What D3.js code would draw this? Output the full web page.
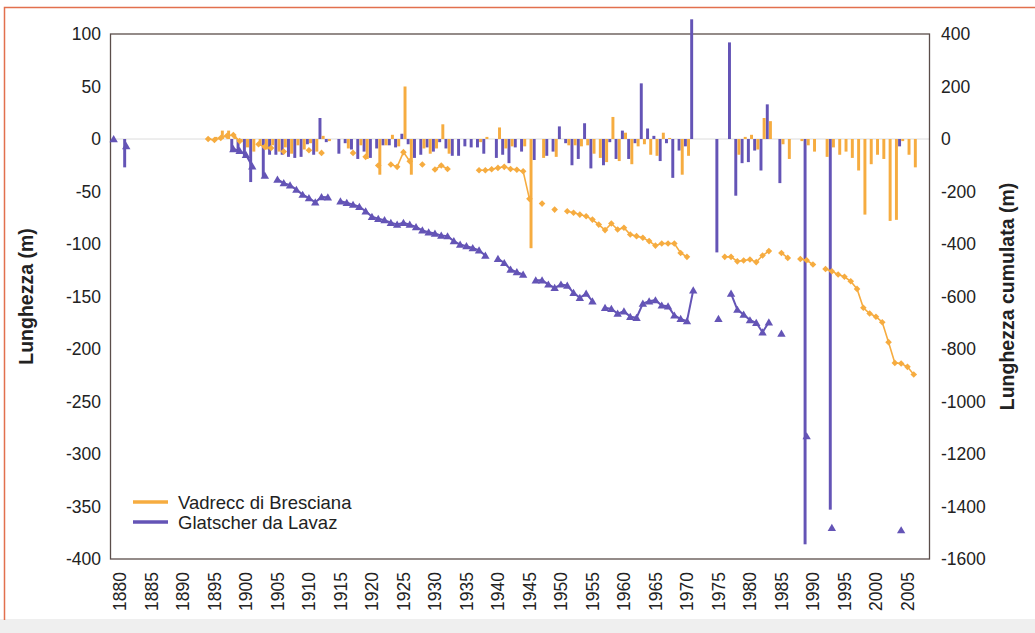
<!DOCTYPE html>
<html>
<head>
<meta charset="utf-8">
<script src="https://d3js.org/d3.v7.min.js"></script>
<style>
  body { margin: 0; background: #fff; }
  svg text { font-family: "Liberation Sans", Arial, sans-serif; fill: #222; }
</style>
</head>
<body>
<div id="chart"></div>
<script>
// category axis runs one year before 1880 and two after 2006
const firstYear = 1879
const lastYear = 2008
const xTickYears = [1880, 1885, 1890, 1895, 1900, 1905, 1910, 1915, 1920, 1925, 1930, 1935, 1940,
  1945, 1950, 1955, 1960, 1965, 1970, 1975, 1980, 1985, 1990, 1995, 2000, 2005]
const leftTicks = [100, 50, 0, -50, -100, -150, -200, -250, -300, -350, -400]
const rightTicks = [400, 200, 0, -200, -400, -600, -800, -1000, -1200, -1400, -1600]

const seriesNames = ["Vadrecc di Bresciana", "Glatscher da Lavaz"]

// annual length change (m), left axis  [year, value]
const brescBar = [
  [1894, 1], [1895, 2], [1896, 8], [1897, 8], [1898, 3], [1899, -3], [1900, -8], [1901, -12], [1902, -5],
  [1903, -10], [1904, -6], [1905, -12], [1906, -8], [1907, -14], [1908, -6], [1909, -10], [1910, -4],
  [1911, -12], [1912, 3], [1913, -2], [1916, -9], [1918, -6], [1919, -19], [1921, -34], [1922, -6],
  [1923, 4], [1924, -7], [1925, 50], [1926, -34], [1928, -9], [1929, -14], [1930, -9], [1931, 14],
  [1932, -14], [1937, -3], [1938, 2], [1940, 11], [1941, -9], [1942, -7], [1944, -7], [1945, -104],
  [1947, -18], [1949, -17], [1951, -6], [1952, -6], [1953, -7], [1954, -6], [1955, -14], [1956, -18],
  [1957, -22], [1958, 21], [1959, -21], [1960, 6], [1961, -24], [1962, -7], [1963, -5], [1964, -15],
  [1965, -16], [1966, 6], [1967, 1], [1969, -34], [1970, -16], [1978, -15], [1979, 2], [1980, 4],
  [1981, -10], [1982, 20], [1983, 17], [1985, -5], [1986, -19], [1988, -2], [1989, -6], [1990, -12],
  [1992, -17], [1993, -8], [1994, -15], [1995, -12], [1996, -18], [1997, -30], [1998, -72], [1999, -24],
  [2000, -15], [2001, -19], [2002, -78], [2003, -77], [2004, -2], [2005, -15], [2006, -27]
]
const lavazBar = [
  [1881, -27], [1898, -12], [1899, -13], [1900, -16], [1901, -41], [1903, -37], [1904, -15], [1905, -15],
  [1906, -15], [1907, -17], [1908, -18], [1909, -17], [1910, -5], [1911, -15], [1912, 20], [1913, -3],
  [1915, -14], [1916, -4], [1917, -10], [1918, -19], [1919, -12], [1920, -18], [1921, -9], [1922, -6],
  [1923, -6], [1924, -8], [1925, 5], [1926, -5], [1927, -18], [1928, -15], [1929, -8], [1930, -12],
  [1931, -3], [1932, -9], [1933, -16], [1934, -16], [1935, -7], [1936, -8], [1937, -8], [1938, -14],
  [1940, -18], [1941, -15], [1942, -23], [1943, -8], [1944, -12], [1946, -20], [1948, -16], [1949, -12],
  [1950, 12], [1951, -4], [1952, -25], [1953, -19], [1954, 15], [1955, -28], [1957, -25], [1958, -3],
  [1959, -19], [1960, 8], [1961, -19], [1962, -4], [1963, 53], [1964, 10], [1965, 3], [1966, -21],
  [1967, -4], [1968, -37], [1969, -11], [1970, -7], [1971, 114], [1975, -108], [1977, 92], [1978, -54],
  [1979, -23], [1980, -22], [1981, -11], [1982, -30], [1983, 33], [1985, -42], [1989, -386], [1993, -353],
  [2004, -7]
]

// cumulative length change (m), right axis
const brescCum = [
  [1894, 0], [1895, -4], [1896, 4], [1897, 12], [1898, 15], [1899, -8], [1902, -20], [1903, -30], [1904, -34],
  [1906, -48], [1910, -43], [1912, -53], [1917, -53], [1919, -68], [1921, -101], [1923, -97], [1924, -106],
  [1925, -50], [1926, -85], [1928, -97], [1930, -116], [1931, -101], [1932, -114], [1937, -119], [1938, -119],
  [1939, -115], [1940, -110], [1941, -106], [1942, -114], [1943, -117], [1944, -123], [1945, -228], [1947, -246],
  [1949, -269], [1951, -275], [1952, -281], [1953, -288], [1954, -294], [1955, -307], [1956, -326], [1957, -347],
  [1958, -322], [1959, -345], [1960, -338], [1961, -364], [1962, -370], [1963, -376], [1964, -389], [1965, -406],
  [1966, -398], [1967, -398], [1968, -398], [1969, -434], [1970, -449], [1976, -449], [1977, -449], [1978, -466],
  [1979, -463], [1980, -459], [1981, -469], [1982, -444], [1983, -427], [1985, -434], [1986, -453], [1988, -457],
  [1989, -462], [1990, -478], [1992, -495], [1993, -504], [1994, -516], [1995, -525], [1996, -542], [1997, -571],
  [1998, -643], [1999, -665], [2000, -677], [2001, -698], [2002, -774], [2003, -853], [2004, -855], [2005, -868],
  [2006, -897]
]
const lavazCum = [
  [1879, 0], [1881, -27], [1898, -38], [1899, -45], [1900, -60], [1901, -104], [1903, -139], [1905, -154],
  [1906, -168], [1907, -176], [1908, -193], [1909, -212], [1910, -225], [1911, -241], [1912, -221], [1913, -222],
  [1915, -237], [1916, -243], [1917, -250], [1918, -258], [1919, -275], [1920, -296], [1921, -304], [1922, -309],
  [1923, -319], [1924, -326], [1925, -319], [1926, -326], [1927, -335], [1928, -348], [1929, -355], [1930, -360],
  [1931, -368], [1932, -370], [1933, -389], [1934, -402], [1935, -408], [1936, -415], [1937, -424], [1938, -444],
  [1940, -456], [1941, -472], [1942, -497], [1943, -507], [1944, -516], [1946, -538], [1947, -538], [1948, -554],
  [1949, -567], [1950, -554], [1951, -558], [1952, -586], [1953, -605], [1954, -589], [1955, -618], [1957, -643],
  [1958, -647], [1959, -665], [1960, -656], [1961, -677], [1962, -681], [1963, -627], [1964, -618], [1965, -614],
  [1966, -634], [1967, -637], [1968, -672], [1969, -685], [1970, -694], [1971, -576], [1975, -685], [1977, -589],
  [1978, -650], [1979, -669], [1980, -690], [1981, -700], [1982, -736], [1983, -698], [1985, -741], [1989, -1132],
  [1993, -1481], [2004, -1490]
]

const orange = "#f6ac40"
const purple = "#6454b6"

const w = 1035
const h = 633
const plot = { left: 110.5, right: 929.5, top: 34, bottom: 559 }

const years = d3.range(firstYear, lastYear + 1)

const x = d3.scaleBand()
  .domain(years)
  .range([plot.left, plot.right])
  .padding(0)
const xc = yr => x(yr) + x.bandwidth() / 2

const yL = d3.scaleLinear().domain([-400, 100]).range([plot.bottom, plot.top])
const yR = d3.scaleLinear().domain([-1600, 400]).range([plot.bottom, plot.top])

const svg = d3.select("#chart").append("svg")
  .attr("width", w)
  .attr("height", h)

// scanned page frame
svg.append("rect").attr("x", 0).attr("y", 619).attr("width", w).attr("height", h - 619).attr("fill", "#efefef")
svg.append("path")
  .attr("d", "M4.5," + 620 + "V7.5H" + w)
  .attr("fill", "none")
  .attr("stroke", "#e2704e")
  .attr("stroke-width", 1.5)

// zero line
svg.append("line")
  .attr("x1", plot.left).attr("x2", plot.right)
  .attr("y1", yL(0)).attr("y2", yL(0))
  .attr("stroke", "#dcdcdc")
  .attr("stroke-width", 1)

// plot frame
svg.append("rect")
  .attr("x", plot.left).attr("y", plot.top)
  .attr("width", plot.right - plot.left).attr("height", plot.bottom - plot.top)
  .attr("fill", "none")
  .attr("stroke", "#5b4e4a")
  .attr("stroke-width", 1.3)

// left axis labels
svg.append("g").selectAll("text")
  .data(leftTicks)
  .enter()
  .append("text")
  .attr("x", 101)
  .attr("y", d => yL(d))
  .attr("dy", "0.36em")
  .attr("text-anchor", "end")
  .style("font-size", "17.5px")
  .text(d => d)

// right axis labels
svg.append("g").selectAll("text")
  .data(rightTicks)
  .enter()
  .append("text")
  .attr("x", 941)
  .attr("y", d => yR(d))
  .attr("dy", "0.36em")
  .attr("text-anchor", "start")
  .style("font-size", "17.5px")
  .text(d => d)

// x axis labels, rotated
svg.append("g").selectAll("text")
  .data(xTickYears)
  .enter()
  .append("text")
  .attr("transform", d => "translate(" + xc(d) + ",572) rotate(-90)")
  .attr("dy", "0.36em")
  .attr("text-anchor", "end")
  .style("font-size", "17.5px")
  .text(d => d)

// axis titles
svg.append("text")
  .attr("transform", "translate(33," + ((plot.top + plot.bottom) / 2) + ") rotate(-90)")
  .attr("text-anchor", "middle")
  .style("font-size", "19.5px")
  .style("font-weight", "bold")
  .text("Lunghezza (m)")
svg.append("text")
  .attr("transform", "translate(1014," + ((plot.top + plot.bottom) / 2) + ") rotate(-90)")
  .attr("text-anchor", "middle")
  .style("font-size", "19.5px")
  .style("font-weight", "bold")
  .text("Lunghezza cumulata (m)")

// bars: purple on the left half of each year, orange on the right half
const barW = x.bandwidth() / 2 - 0.2
const drawBars = (data, color, offset) => {
  svg.append("g").selectAll("rect")
    .data(data)
    .enter()
    .append("rect")
    .attr("x", d => x(d[0]) + offset)
    .attr("width", barW)
    .attr("y", d => Math.min(yL(d[1]), yL(0)))
    .attr("height", d => Math.abs(yL(d[1]) - yL(0)))
    .attr("fill", color)
}
drawBars(lavazBar, purple, 0.1)
drawBars(brescBar, orange, x.bandwidth() / 2 + 0.1)

// cumulative lines, broken where a year is missing
const drawLine = (data, color, width, shape) => {
  const byYear = new Map(data)
  const line = d3.line()
    .defined(yr => byYear.has(yr))
    .x(yr => xc(yr))
    .y(yr => yR(byYear.get(yr)))
  svg.append("path")
    .datum(years)
    .attr("d", line)
    .attr("fill", "none")
    .attr("stroke", color)
    .attr("stroke-width", width)
  svg.append("g").selectAll("path")
    .data(data)
    .enter()
    .append("path")
    .attr("transform", d => "translate(" + xc(d[0]) + "," + yR(d[1]) + ")")
    .attr("d", shape)
    .attr("fill", color)
}
drawLine(brescCum, orange, 1.6, "M0,-3.3L3.3,0L0,3.3L-3.3,0Z")
drawLine(lavazCum, purple, 2, "M0,-4L4.2,3.2L-4.2,3.2Z")

// legend
const legend = svg.append("g")
const legendRows = [[seriesNames[0], orange, 502], [seriesNames[1], purple, 522]]
legendRows.forEach(r => {
  legend.append("line")
    .attr("x1", 133).attr("x2", 168)
    .attr("y1", r[2]).attr("y2", r[2])
    .attr("stroke", r[1])
    .attr("stroke-width", 3.5)
  legend.append("text")
    .attr("x", 178)
    .attr("y", r[2])
    .attr("dy", "0.36em")
    .style("font-size", "18.5px")
    .text(r[0])
})
</script>
